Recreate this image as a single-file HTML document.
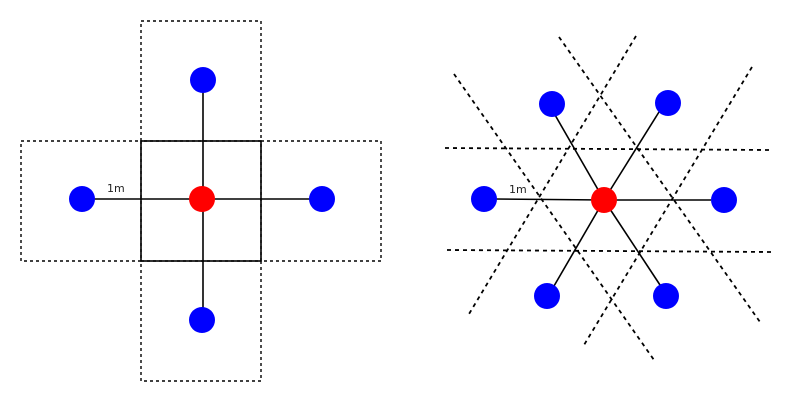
<!DOCTYPE html>
<html><head><meta charset="utf-8"><style>
html,body{margin:0;padding:0;background:#fff;}
svg{display:block;}
text{font-family:"DejaVu Sans","Liberation Sans",sans-serif;font-size:11px;fill:#222;}
</style></head><body>
<svg width="796" height="402" viewBox="0 0 796 402" xmlns="http://www.w3.org/2000/svg">
<g fill="none" stroke="#000" stroke-width="1.4" stroke-dasharray="3,3">
  <rect x="141" y="21" width="120" height="120"/>
  <rect x="21" y="141" width="120" height="120"/>
  <rect x="261" y="141" width="120" height="120"/>
  <rect x="141" y="261" width="120" height="120"/>
</g>
<rect x="141" y="141" width="120" height="120" fill="none" stroke="#000" stroke-width="1.6"/>
<g stroke="#000" stroke-width="1.6">
  <line x1="203" y1="80" x2="203" y2="320"/>
  <line x1="82" y1="199" x2="322" y2="199"/>
</g>
<circle cx="203" cy="80" r="13" fill="#0000ff"/>
<circle cx="82" cy="199" r="13" fill="#0000ff"/>
<circle cx="322" cy="199" r="13" fill="#0000ff"/>
<circle cx="202" cy="320" r="13" fill="#0000ff"/>
<circle cx="202" cy="199" r="13" fill="#ff0000"/>
<text x="107" y="192">1m</text>

<g stroke="#000" stroke-width="1.8" stroke-dasharray="4,4">
  <line x1="445" y1="148" x2="770" y2="150"/>
  <line x1="447" y1="250" x2="772" y2="252"/>
  <line x1="454" y1="74" x2="654" y2="360"/>
  <line x1="559" y1="37" x2="760" y2="322"/>
  <line x1="636" y1="36" x2="469" y2="314"/>
  <line x1="752" y1="67" x2="584" y2="345"/>
</g>
<g stroke="#000" stroke-width="1.6">
  <line x1="604" y1="200" x2="551" y2="108"/>
  <line x1="604" y1="200" x2="659" y2="112"/>
  <line x1="604" y1="200" x2="494" y2="199"/>
  <line x1="604" y1="200" x2="711" y2="200"/>
  <line x1="604" y1="200" x2="554" y2="286"/>
  <line x1="604" y1="200" x2="662" y2="288"/>
</g>
<circle cx="552" cy="104" r="13" fill="#0000ff"/>
<circle cx="668" cy="103" r="13" fill="#0000ff"/>
<circle cx="484" cy="199" r="13" fill="#0000ff"/>
<circle cx="724" cy="200" r="13" fill="#0000ff"/>
<circle cx="547" cy="296" r="13" fill="#0000ff"/>
<circle cx="666" cy="296" r="13" fill="#0000ff"/>
<circle cx="604" cy="200" r="13" fill="#ff0000"/>
<text x="509" y="193">1m</text>
</svg>
</body></html>
